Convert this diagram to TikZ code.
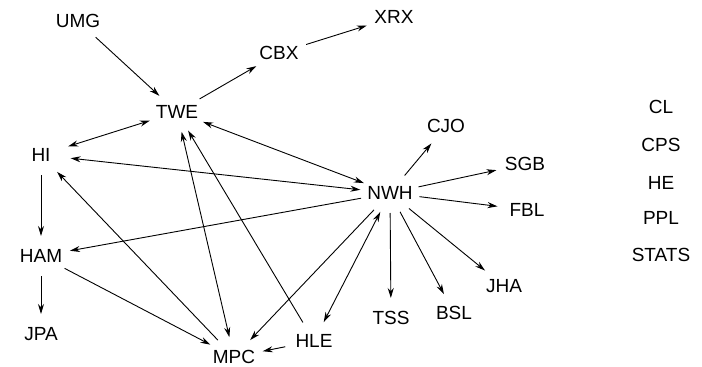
\documentclass[tikz,border=0pt]{standalone}
\usepackage{fontspec}
\setmainfont{Liberation Sans}
\usetikzlibrary{arrows.meta,shapes.geometric}
\begin{document}
\begin{tikzpicture}[x=1pt,y=-1pt,
  % each vertex is an invisible ellipse, its name printed in the middle
  vertex/.style={ellipse,minimum width=60pt,minimum height=40pt,inner sep=0pt,outer sep=0pt,
    label={[font=\fontsize{19}{22}\selectfont]center:#1}},
  link/.style={line width=0.9pt,-{Stealth[length=10pt,width=6pt]}},
  both/.style={line width=0.9pt,{Stealth[length=10pt,width=6pt]}-{Stealth[length=10pt,width=6pt]}}]
\useasboundingbox (0,0) rectangle (702,367);
% vertices
\node[vertex=UMG] (UMG) at (78,21) {};
\node[vertex=XRX] (XRX) at (394,17) {};
\node[vertex=CBX] (CBX) at (279,53) {};
\node[vertex=TWE] (TWE) at (177,112) {};
\node[vertex=CJO] (CJO) at (446,126) {};
\node[vertex=HI] (HI) at (41,155) {};
\node[vertex=SGB] (SGB) at (525,164) {};
\node[vertex=NWH] (NWH) at (390,193) {};
\node[vertex=FBL] (FBL) at (527,210) {};
\node[vertex=HAM] (HAM) at (41,256) {};
\node[vertex=JHA] (JHA) at (504,286) {};
\node[vertex=TSS] (TSS) at (391,318) {};
\node[vertex=BSL] (BSL) at (454,313) {};
\node[vertex=JPA] (JPA) at (41,334) {};
\node[vertex=HLE] (HLE) at (314,341) {};
\node[vertex=MPC] (MPC) at (234,357) {};
% isolated vertices
\node[vertex=CL] (CL) at (661,107) {};
\node[vertex=CPS] (CPS) at (661,145) {};
\node[vertex=HE] (HE) at (661,183) {};
\node[vertex=PPL] (PPL) at (661,218) {};
\node[vertex=STATS] (STATS) at (661,255) {};
% links
\draw[link] (UMG) -- (TWE);
\draw[link] (TWE) -- (CBX);
\draw[link] (CBX) -- (XRX);
\draw[both] (HI) -- (TWE);
\draw[both] (TWE) -- (NWH);
\draw[both] (HI) -- (NWH);
\draw[link] (NWH) -- (HAM);
\draw[link] (HI) -- (HAM);
\draw[link] (HAM) -- (JPA);
\draw[link] (HAM) -- (MPC);
\draw[link] (MPC) -- (HI);
\draw[both] (TWE) -- (MPC);
\draw[link] (HLE) -- (TWE);
\draw[link] (NWH) -- (MPC);
\draw[both] (NWH) -- (HLE);
\draw[link] (HLE) -- (MPC);
\draw[link] (NWH) -- (CJO);
\draw[link] (NWH) -- (SGB);
\draw[link] (NWH) -- (FBL);
\draw[link] (NWH) -- (JHA);
\draw[link] (NWH) -- (BSL);
\draw[link] (NWH) -- (TSS);
\end{tikzpicture}
\end{document}
